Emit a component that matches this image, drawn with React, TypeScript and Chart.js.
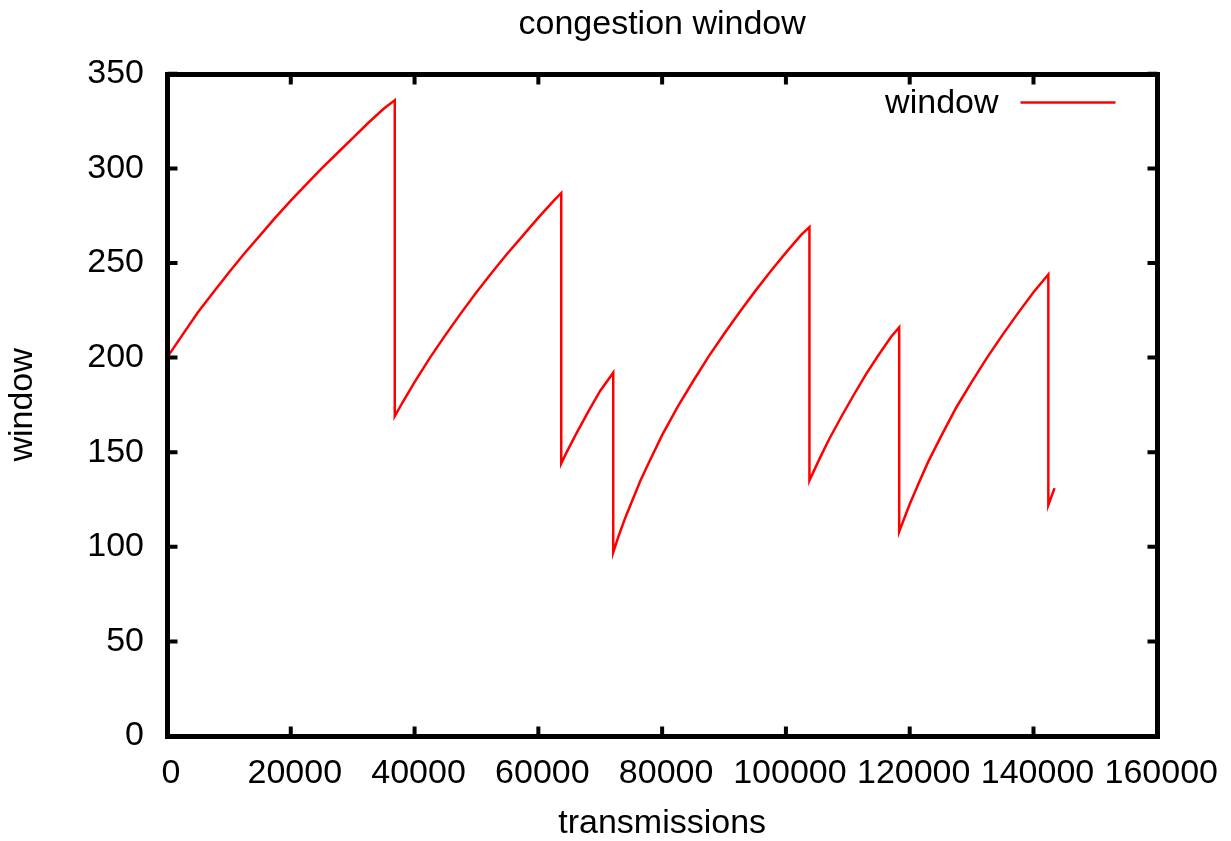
import React, { useEffect, useRef } from "react";
import { Chart, registerables } from "chart.js";

Chart.register(...registerables);

const chartTitle = "congestion window";
const xTitle = "transmissions";
const yTitle = "window";
const seriesLabel = "window";

const transmissions = [
  0, 2500, 5000, 7500, 10000, 12500, 15000, 17500, 20000, 22500, 25000, 27500, 30000, 32500, 35000, 36800,
  36800, 38000, 40000, 42500, 45000, 47500, 50000, 52500, 55000, 57500, 60000, 62500, 63700,
  63700, 64500, 66000, 68000, 70000, 72100,
  72100, 73000, 74000, 75000, 76500, 78000, 80000, 82500, 85000, 87500, 90000, 92500, 95000, 97500, 100000, 102500, 103800,
  103800, 104500, 105500, 107000, 109000, 111000, 113000, 115000, 117000, 118300,
  118300, 119000, 120000, 121500, 123000, 125000, 127500, 130000, 132500, 135000, 137500, 140000, 142400,
  142400, 143400,
];
const windowSize = [
  200, 212, 224, 234.5, 245, 255, 264.5, 274, 283, 291.5, 300, 308, 316, 324, 331.5, 336,
  169, 176, 187, 200, 212, 223.5, 234.5, 245, 255, 264.5, 274, 283, 287,
  144, 149.5, 159, 171, 182.5, 192,
  97, 106, 115, 123, 135, 145.5, 159, 174, 187.5, 200.5, 212.5, 224, 235, 245.5, 255.5, 265, 269,
  135, 140, 147, 157, 169, 180.5, 191.5, 201.5, 211, 216,
  108, 114, 122.5, 134, 145, 158, 173.5, 187, 200, 212, 223.5, 234.5, 244,
  122, 131,
];

const xMin = 0;
const xMax = 160000;
const xStep = 20000;
const yMin = 0;
const yMax = 350;
const yStep = 50;

const FONT = "'Liberation Sans', Arial, Helvetica, sans-serif";

const framePlugin = {
  id: "gnuplotFrame",
  afterDraw(chart: any) {
    const { ctx, chartArea, scales } = chart;
    const l = Math.round(chartArea.left) + 0.5;
    const r = Math.round(chartArea.right) + 0.5;
    const t = Math.round(chartArea.top) + 0.5;
    const b = Math.round(chartArea.bottom) + 0.5;
    ctx.save();
    ctx.strokeStyle = "#000";
    // ticks
    ctx.lineWidth = 4;
    ctx.beginPath();
    const tl = 10;
    scales.x.ticks.forEach((tk: any) => {
      const px = scales.x.getPixelForValue(tk.value);
      ctx.moveTo(px, b);
      ctx.lineTo(px, b - tl);
      ctx.moveTo(px, t);
      ctx.lineTo(px, t + tl);
    });
    scales.y.ticks.forEach((tk: any) => {
      const py = scales.y.getPixelForValue(tk.value);
      ctx.moveTo(l, py);
      ctx.lineTo(l + tl, py);
      ctx.moveTo(r, py);
      ctx.lineTo(r - tl, py);
    });
    ctx.stroke();
    // frame
    ctx.lineWidth = 5;
    ctx.strokeRect(l, t, r - l, b - t);
    // legend
    const ds = chart.data.datasets[0];
    const ly = t + 28;
    ctx.font = `34px ${FONT}`;
    ctx.fillStyle = "#000";
    ctx.textAlign = "right";
    ctx.textBaseline = "middle";
    ctx.fillText(ds.label, r - 159, ly + 1);
    ctx.strokeStyle = ds.borderColor;
    ctx.lineWidth = 2.5;
    ctx.beginPath();
    ctx.moveTo(r - 137, ly);
    ctx.lineTo(r - 42, ly);
    ctx.stroke();
    ctx.restore();
  },
};

export default function App() {
  const ref = useRef<HTMLCanvasElement | null>(null);

  useEffect(() => {
    if (!ref.current) return;
    const points = transmissions.map((x, i) => ({ x, y: windowSize[i] }));
    const chart = new Chart(ref.current, {
      type: "line",
      data: {
        datasets: [
          {
            label: seriesLabel,
            data: points,
            borderColor: "#ff0000",
            backgroundColor: "#ff0000",
            borderWidth: 2.5,
            pointRadius: 0,
            tension: 0,
            fill: false,
          },
        ],
      },
      options: {
        animation: false,
        responsive: false,
        devicePixelRatio: 1,
        parsing: false as any,
        layout: { padding: { left: 0, right: 72, top: 0, bottom: 0 } },
        plugins: {
          legend: { display: false },
          tooltip: { enabled: false },
          title: {
            display: true,
            text: chartTitle,
            fullSize: false,
            color: "#000",
            font: { family: FONT, size: 34, weight: "normal" as any, lineHeight: 1.2 },
            padding: { top: 4, bottom: 29 },
          },
        },
        scales: {
          x: {
            type: "linear",
            min: xMin,
            max: xMax,
            grid: { display: false, drawTicks: false },
            border: { display: false },
            ticks: {
              stepSize: xStep,
              color: "#000",
              padding: 17,
              labelOffset: 4,
              maxRotation: 0,
              autoSkip: false,
              font: { family: FONT, size: 34 },
              callback: (v: any) => String(v),
            },
            title: {
              display: true,
              text: xTitle,
              color: "#000",
              font: { family: FONT, size: 34, lineHeight: 1.0 },
              padding: { top: 0, bottom: 0 },
            },
            afterFit: (s: any) => {
              s.height = 105;
            },
          },
          y: {
            type: "linear",
            min: yMin,
            max: yMax,
            grid: { display: false, drawTicks: false },
            border: { display: false },
            ticks: {
              stepSize: yStep,
              color: "#000",
              padding: 23,
              autoSkip: false,
              font: { family: FONT, size: 34 },
              callback: (v: any) => String(v),
            },
            title: {
              display: true,
              text: yTitle,
              color: "#000",
              font: { family: FONT, size: 34, lineHeight: 1.2 },
              padding: { top: 2, bottom: 0 },
            },
            afterFit: (s: any) => {
              s.width = 167;
            },
          },
        },
      },
      plugins: [framePlugin],
    });
    return () => chart.destroy();
  }, []);

  return (
    <div style={{ position: "fixed", left: 0, top: 0, width: 1231, height: 841, background: "#fff" }}>
      <canvas ref={ref} width={1231} height={841} style={{ width: 1231, height: 841, display: "block" }} />
    </div>
  );
}
